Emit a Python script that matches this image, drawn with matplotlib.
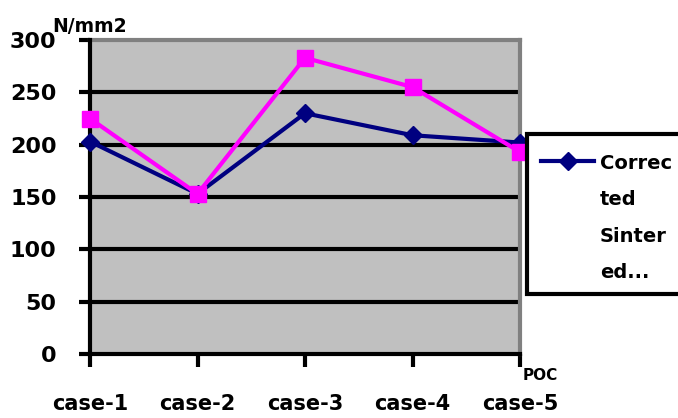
import matplotlib
matplotlib.use("Agg")
import matplotlib.pyplot as plt
from matplotlib.patches import Rectangle
from matplotlib.lines import Line2D

categories = ["case-1", "case-2", "case-3", "case-4", "case-5"]
series_blue = [203, 153, 230, 209, 202]
series_magenta = [225, 153, 283, 255, 193]
blue_label_lines = ["Correc", "ted", "Sinter", "ed..."]
y_ticks = [0, 50, 100, 150, 200, 250, 300]

plt.rcParams['font.family'] = ['DejaVu Sans']
plt.rcParams['font.weight'] = 'bold'

W, H = 678, 418
fig = plt.figure(figsize=(W/100, H/100), dpi=100)
ax = fig.add_axes([90/W, 1-354/H, 430/W, 314/H])
ax.set_facecolor('#C0C0C0')

x = list(range(len(categories)))
ax.plot(x, series_blue, color='#000080', lw=3, marker='D', ms=9,
        zorder=4, clip_on=False)
ax.plot(x, series_magenta, color='#FF00FF', lw=3, marker='s', ms=11.5,
        zorder=5, clip_on=False)

ax.set_xlim(0, 4)
ax.set_ylim(0, 300)
ax.set_yticks(y_ticks)
ax.set_yticklabels([str(v) for v in y_ticks], fontsize=16, fontweight='bold')
ax.set_xticks(x)
ax.set_xticklabels(categories, fontsize=15, fontweight='bold')
ax.tick_params(axis='y', direction='out', length=8, width=3, pad=16)
ax.tick_params(axis='x', direction='out', length=9, width=3, pad=20)

for v in y_ticks[1:-1]:
    ax.axhline(v, color='black', lw=3, zorder=2)

for s in ['left', 'bottom']:
    ax.spines[s].set_color('black')
    ax.spines[s].set_linewidth(3)
    ax.spines[s].set_zorder(3)
for s in ['top', 'right']:
    ax.spines[s].set_color('#808080')
    ax.spines[s].set_linewidth(3)
    ax.spines[s].set_zorder(2.5)

fig.text(52/W, 1-32/H, "N/mm2", fontsize=13.5, fontweight='bold', va='baseline', ha='left')
fig.text(523/W, 1-380/H, "POC", fontsize=11, fontweight='bold', va='baseline', ha='left')

# legend box (drawn by hand so the handle sits beside the first text line)
x0, y0, x1, y1 = 527/W, 1-294/H, 700/W, 1-134/H
fig.add_artist(Rectangle((x0, y0), x1-x0, y1-y0, transform=fig.transFigure,
                         facecolor='white', edgecolor='black', lw=3, clip_on=False))
ly = 1-161/H
fig.add_artist(Line2D([541/W, 594/W], [ly, ly], transform=fig.transFigure,
                      color='#000080', lw=3, clip_on=False))
fig.add_artist(Line2D([568/W], [ly], transform=fig.transFigure,
                      color='#000080', marker='D', ms=9, lw=0, clip_on=False))
baselines = [169, 205, 242, 278]
for txt, b in zip(blue_label_lines, baselines):
    fig.text(600/W, 1-b/H, txt, fontsize=14, fontweight='bold',
             va='baseline', ha='left')

fig.savefig("out.png", dpi=100)
